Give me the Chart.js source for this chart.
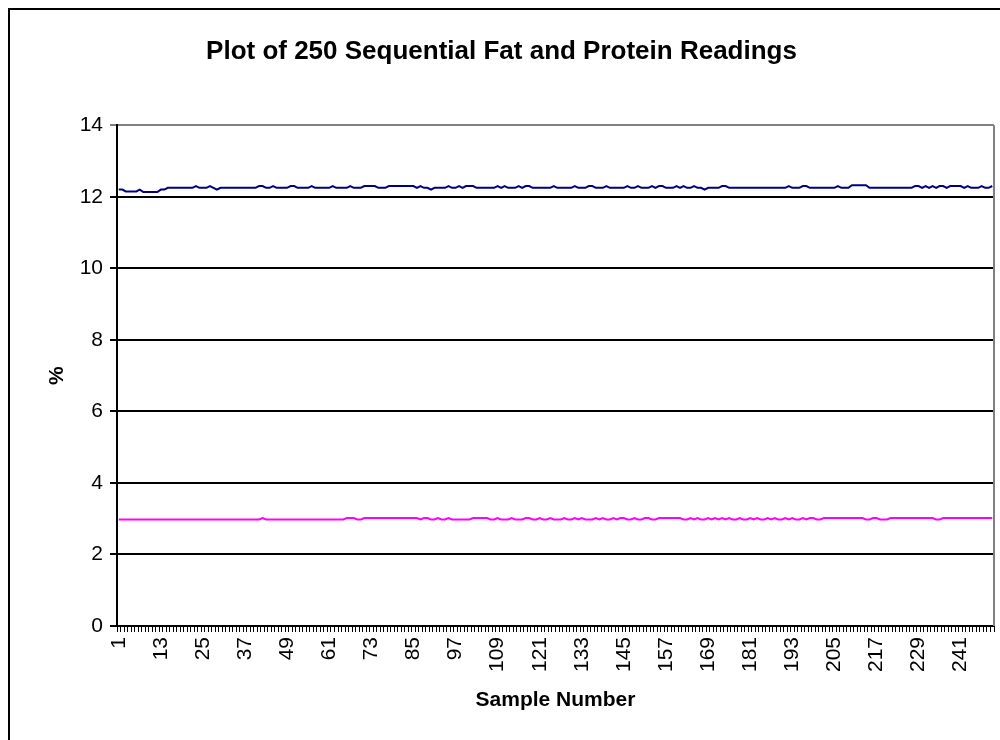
<!DOCTYPE html>
<html>
<head>
<meta charset="utf-8">
<script src="https://cdn.jsdelivr.net/npm/chart.js@4/dist/chart.umd.min.js"></script>
<style>
  html, body { margin: 0; padding: 0; background: #fff; }
  #wrap { width: 1000px; height: 740px; position: relative; }
</style>
</head>
<body>
<div id="wrap"><canvas id="canvas"></canvas></div>
<script>
// sample numbers 1..250 on the category axis
var samples = [];
for (var i = 1; i <= 250; i++) samples.push(String(i));

var yTicks = [0, 2, 4, 6, 8, 10, 12, 14];

// protein readings (%)
var protein = [
  12.2,12.2,12.15,12.15,12.15,12.15,12.2,12.13,12.13,12.13,
  12.13,12.13,12.2,12.2,12.25,12.25,12.25,12.25,12.25,12.25,
  12.25,12.25,12.3,12.25,12.25,12.25,12.3,12.25,12.2,12.25,
  12.25,12.25,12.25,12.25,12.25,12.25,12.25,12.25,12.25,12.25,
  12.3,12.3,12.25,12.25,12.3,12.25,12.25,12.25,12.25,12.3,
  12.3,12.25,12.25,12.25,12.25,12.3,12.25,12.25,12.25,12.25,
  12.25,12.3,12.25,12.25,12.25,12.25,12.3,12.25,12.25,12.25,
  12.3,12.3,12.3,12.3,12.25,12.25,12.25,12.3,12.3,12.3,
  12.3,12.3,12.3,12.3,12.3,12.25,12.3,12.25,12.25,12.2,
  12.25,12.25,12.25,12.25,12.3,12.25,12.25,12.3,12.25,12.3,
  12.3,12.3,12.25,12.25,12.25,12.25,12.25,12.25,12.3,12.25,
  12.3,12.25,12.25,12.25,12.3,12.25,12.3,12.3,12.25,12.25,
  12.25,12.25,12.25,12.25,12.3,12.25,12.25,12.25,12.25,12.25,
  12.3,12.25,12.25,12.25,12.3,12.3,12.25,12.25,12.25,12.3,
  12.25,12.25,12.25,12.25,12.25,12.3,12.25,12.25,12.3,12.25,
  12.25,12.25,12.3,12.25,12.3,12.3,12.25,12.25,12.25,12.3,
  12.25,12.3,12.25,12.25,12.3,12.25,12.25,12.2,12.25,12.25,
  12.25,12.25,12.3,12.3,12.25,12.25,12.25,12.25,12.25,12.25,
  12.25,12.25,12.25,12.25,12.25,12.25,12.25,12.25,12.25,12.25,
  12.25,12.3,12.25,12.25,12.25,12.3,12.3,12.25,12.25,12.25,
  12.25,12.25,12.25,12.25,12.25,12.3,12.25,12.25,12.25,12.32,
  12.32,12.32,12.32,12.32,12.25,12.25,12.25,12.25,12.25,12.25,
  12.25,12.25,12.25,12.25,12.25,12.25,12.25,12.3,12.3,12.25,
  12.3,12.25,12.3,12.25,12.3,12.3,12.25,12.3,12.3,12.3,
  12.3,12.25,12.3,12.25,12.25,12.25,12.3,12.25,12.25,12.3
];

// fat readings (%)
var fat = [
  2.98,2.98,2.98,2.98,2.98,2.98,2.98,2.98,2.98,2.98,
  2.98,2.98,2.98,2.98,2.98,2.98,2.98,2.98,2.98,2.98,
  2.98,2.98,2.98,2.98,2.98,2.98,2.98,2.98,2.98,2.98,
  2.98,2.98,2.98,2.98,2.98,2.98,2.98,2.98,2.98,2.98,
  2.98,3.02,2.98,2.98,2.98,2.98,2.98,2.98,2.98,2.98,
  2.98,2.98,2.98,2.98,2.98,2.98,2.98,2.98,2.98,2.98,
  2.98,2.98,2.98,2.98,2.98,3.02,3.02,3.02,2.98,2.98,
  3.02,3.02,3.02,3.02,3.02,3.02,3.02,3.02,3.02,3.02,
  3.02,3.02,3.02,3.02,3.02,3.02,2.98,3.02,3.02,2.98,
  2.98,3.02,2.98,2.98,3.02,2.98,2.98,2.98,2.98,2.98,
  2.98,3.02,3.02,3.02,3.02,3.02,2.98,2.98,3.02,2.98,
  2.98,2.98,3.02,2.98,2.98,2.98,3.02,3.02,2.98,2.98,
  3.02,2.98,2.98,3.02,2.98,2.98,2.98,3.02,2.98,2.98,
  3.02,2.98,3.02,2.98,2.98,2.98,3.02,2.98,3.02,2.98,
  2.98,3.02,2.98,3.02,3.02,2.98,2.98,3.02,2.98,2.98,
  3.02,3.02,2.98,2.98,3.02,3.02,3.02,3.02,3.02,3.02,
  3.02,2.98,2.98,3.02,2.98,3.02,2.98,2.98,3.02,2.98,
  3.02,2.98,3.02,2.98,3.02,2.98,2.98,3.02,2.98,2.98,
  3.02,2.98,3.02,2.98,2.98,3.02,2.98,3.02,2.98,2.98,
  3.02,2.98,3.02,2.98,2.98,3.02,2.98,3.02,3.02,2.98,
  2.98,3.02,3.02,3.02,3.02,3.02,3.02,3.02,3.02,3.02,
  3.02,3.02,3.02,2.98,2.98,3.02,3.02,2.98,2.98,2.98,
  3.02,3.02,3.02,3.02,3.02,3.02,3.02,3.02,3.02,3.02,
  3.02,3.02,3.02,2.98,2.98,3.02,3.02,3.02,3.02,3.02,
  3.02,3.02,3.02,3.02,3.02,3.02,3.02,3.02,3.02,3.02
];

(function(){
	var canvas = document.getElementById("canvas");
	var FONT = "'Liberation Sans', Arial, sans-serif";

	// white background, outer chart frame and the grey right edge of the plot area
	var frame = {
		id: 'frame',
		beforeDraw: function(chart){
			var ctx = chart.ctx;
			ctx.save();
			ctx.fillStyle = '#fff';
			ctx.fillRect(0, 0, chart.width, chart.height);
			ctx.strokeStyle = '#000';
			ctx.lineWidth = 2;
			ctx.beginPath();
			ctx.moveTo(9, chart.height);
			ctx.lineTo(9, 9);
			ctx.lineTo(chart.width, 9);
			ctx.stroke();
			ctx.restore();
		},
		afterDatasetsDraw: function(chart){
			var a = chart.chartArea, ctx = chart.ctx;
			ctx.save();
			ctx.strokeStyle = '#808080';
			ctx.lineWidth = 2;
			ctx.beginPath();
			ctx.moveTo(a.right, a.top);
			ctx.lineTo(a.right, a.bottom);
			ctx.stroke();
			ctx.restore();
		}
	};

	new Chart(canvas, {
		type: 'line',
		data: {
			labels: samples,
			datasets: [{
				label: 'Protein',
				data: protein,
				borderColor: '#000080',
				borderWidth: 2,
				pointRadius: 0,
				tension: 0
			}, {
				label: 'Fat',
				data: fat,
				borderColor: '#ff00ff',
				borderWidth: 2,
				pointRadius: 0,
				tension: 0
			}]
		},
		options: {
			responsive: true,
			maintainAspectRatio: false,
			animation: false,
			events: [],
			layout: { padding: { left: 9, right: 6, top: 0, bottom: 0 } },
			plugins: {
				legend: { display: false },
				tooltip: { enabled: false },
				title: {
					display: true,
					text: 'Plot of 250 Sequential Fat and Protein Readings',
					color: '#000',
					font: { family: FONT, size: 26, weight: 'bold' },
					padding: { top: 36, bottom: 58 }
				}
			},
			scales: {
				x: {
					type: 'category',
					offset: true,
					grid: {
						display: true,
						offset: true,
						drawOnChartArea: false,
						drawTicks: true,
						tickLength: 6,
						color: '#000',
						lineWidth: 1
					},
					border: { display: true, color: '#000', width: 2 },
					ticks: {
						autoSkip: false,
						maxRotation: 90,
						minRotation: 90,
						padding: 5,
						color: '#000',
						font: { family: FONT, size: 21 },
						callback: function(v, idx){ return idx % 12 === 0 ? samples[idx] : ''; }
					},
					title: {
						display: true,
						text: 'Sample Number',
						color: '#000',
						font: { family: FONT, size: 21, weight: 'bold' },
						padding: { top: 0, bottom: 27 }
					},
					afterFit: function(scale){
						scale.height = 114;
						scale.paddingLeft = 0;
						scale.paddingRight = 0;
					}
				},
				y: {
					min: 0,
					max: 14,
					afterBuildTicks: function(scale){
						scale.ticks = yTicks.map(function(v){ return { value: v }; });
					},
					grid: {
						color: function(c){ return c.tick && c.tick.value === 14 ? '#808080' : '#000'; },
						lineWidth: 2,
						drawTicks: true,
						tickLength: 7
					},
					border: { display: true, color: '#000', width: 2 },
					ticks: {
						padding: 7,
						color: '#000',
						font: { family: FONT, size: 21 }
					},
					title: {
						display: true,
						text: '%',
						color: '#000',
						font: { family: FONT, size: 21, weight: 'bold' },
						padding: { top: 36, bottom: 0 }
					},
					afterFit: function(scale){
						scale.width = 108;
						scale.paddingTop = 0;
						scale.paddingBottom = 0;
					}
				}
			}
		},
		plugins: [frame]
	});
}());
</script>
</body>
</html>
